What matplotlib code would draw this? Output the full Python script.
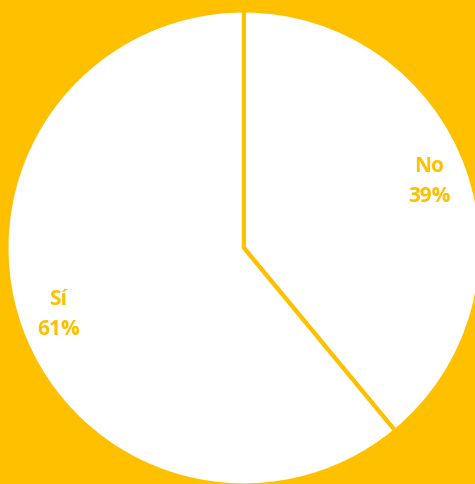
import matplotlib.pyplot as plt

labels = ["No", "Sí"]
values = [39, 61]

amber = "#FFC000"

fig = plt.figure(figsize=(4.75, 4.84), dpi=100, facecolor=amber)
ax = fig.add_axes([0, 0, 1, 1])
ax.set_facecolor(amber)

label_iter = iter(labels)
wedges, texts, autotexts = ax.pie(
    values,
    startangle=90,
    counterclock=False,
    colors=["white", "white"],
    wedgeprops=dict(edgecolor=amber, linewidth=3),
    autopct=lambda p: f"{next(label_iter)}\n{p:.0f}%",
    pctdistance=0.83,
    textprops=dict(color=amber, fontsize=15, fontweight="bold",
                   family="Open Sans", linespacing=1.55),
)

# pie is slightly larger than the canvas on the right edge
ax.set_xlim(-1.027, 0.973)
ax.set_ylim(-0.994, 1.044)
ax.set_aspect("auto")
ax.axis("off")

fig.savefig("out.png", dpi=100, facecolor=amber)
